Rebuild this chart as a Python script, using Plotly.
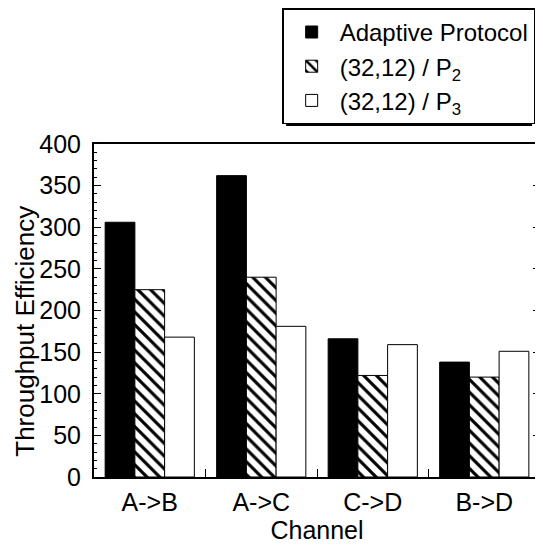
import plotly.graph_objects as go

categories = ["A->B", "A->C", "C->D", "B->D"]
adaptive = [306, 362, 166, 138]
p2 = [225, 240, 122, 120]
p3 = [168, 181, 159, 151]
series_names = ["Adaptive Protocol", "(32,12) / P<sub>2</sub>", "(32,12) / P<sub>3</sub>"]
y_title = "Throughput Efficiency"
x_title = "Channel"

FONT = "Liberation Sans, Arial, Helvetica, sans-serif"

# page body has an 8px margin: figure is drawn at (8, 8) in the window
W, H = 535, 546
ML, MR, MT, MB = 86, 1, 135, 77
PW = W - ML - MR
PH = H - MT - MB


def px(xw):
    return (xw - 8 - ML) / PW


def py(yw):
    return (H - MB - (yw - 8)) / PH


fig = go.Figure()
fig.add_trace(go.Bar(x=categories, y=adaptive, name=series_names[0], legendgroup="a",
                     marker=dict(color="black", line=dict(color="black", width=1))))
fig.add_trace(go.Bar(x=categories, y=p2, name=series_names[1], legendgroup="b",
                     marker=dict(color="white", line=dict(color="black", width=1),
                                 pattern=dict(shape="\\", fgcolor="black", bgcolor="white",
                                              size=9, solidity=0.35, fillmode="replace"))))
fig.add_trace(go.Bar(x=categories, y=p3, name=series_names[2], legendgroup="c",
                     marker=dict(color="white", line=dict(color="black", width=1))))

# legend drop shadow (paper coords)
fig.add_shape(type="rect", xref="paper", yref="paper",
              x0=px(287), x1=px(534), y0=py(125), y1=py(11),
              fillcolor="black", line=dict(width=0), layer="below")

fig.add_annotation(text=y_title, xref="paper", yref="paper",
                   x=px(25), y=py(331), textangle=-90, showarrow=False,
                   xanchor="center", yanchor="middle", font=dict(size=26))

fig.update_layout(
    width=W, height=H,
    margin=dict(l=ML, r=MR, t=MT, b=MB),
    paper_bgcolor="white", plot_bgcolor="white",
    barmode="group", bargap=0.2, bargroupgap=0,
    font=dict(family=FONT, size=24, color="black"),
    showlegend=True,
    legend=dict(x=px(283), y=py(7), xanchor="left", yanchor="top",
                bordercolor="black", borderwidth=1.5, bgcolor="white",
                font=dict(size=24), tracegroupgap=10, traceorder="normal",
                itemwidth=46),
)
fig.update_xaxes(
    showline=True, linecolor="black", linewidth=2, mirror=True,
    ticks="inside", ticklen=8, tickwidth=1, tickcolor="black", tickson="boundaries",
    tickfont=dict(size=25), ticklabelstandoff=2,
    title=dict(text=x_title, font=dict(size=25), standoff=6),
)
fig.update_yaxes(
    range=[0, 400], tickvals=[0, 50, 100, 150, 200, 250, 300, 350, 400],
    showline=True, linecolor="black", linewidth=2, mirror="ticks",
    ticks="inside", ticklen=7, tickwidth=1, tickcolor="black",
    minor=dict(ticks="inside", ticklen=3, dtick=10, tickcolor="black", tickwidth=1),
    showgrid=False, zeroline=False,
    tickfont=dict(size=25), ticklabelstandoff=6,
)

fig.write_html("out.html")
